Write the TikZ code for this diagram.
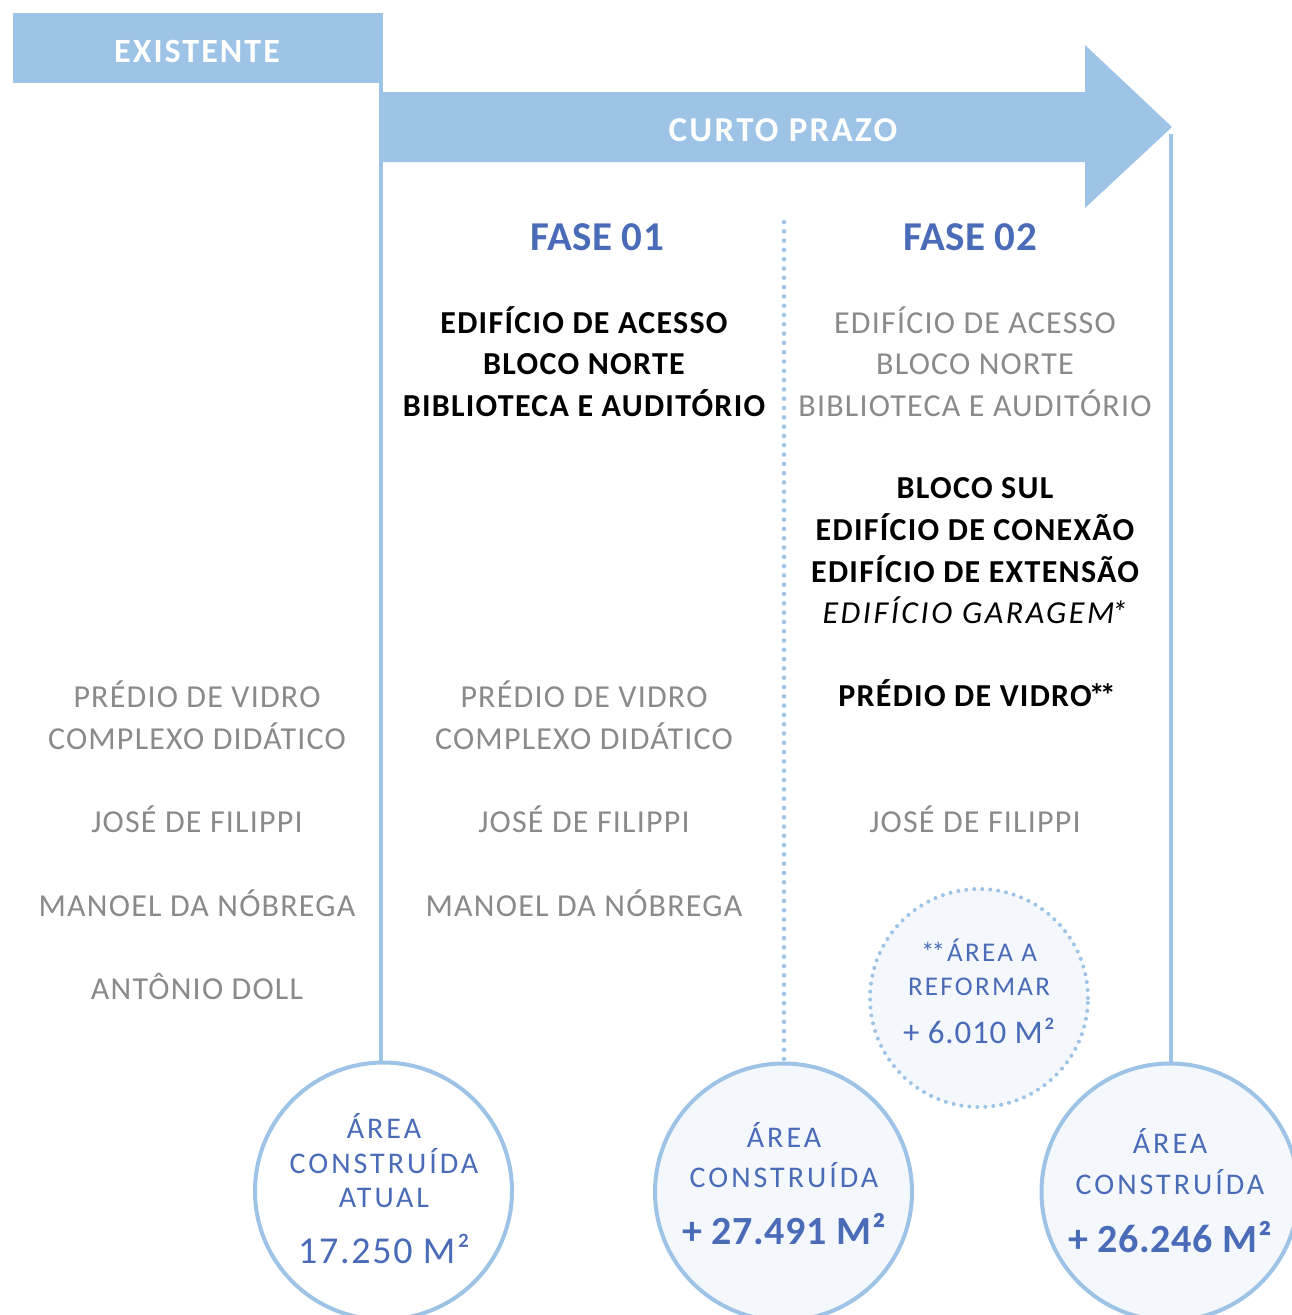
\documentclass[tikz,border=0pt]{standalone}
\usepackage{fontspec}
\setmainfont{Carlito}
\definecolor{lb}{HTML}{9DC3E6}
\definecolor{tb}{HTML}{4A6CB8}
\definecolor{gr}{HTML}{8A8A8A}
\definecolor{cf}{HTML}{F4F8FC}
\begin{document}
\begin{tikzpicture}[x=1pt,y=-1pt,
  lbl/.style={anchor=base, inner sep=0pt, outer sep=0pt},
  graytxt/.style={lbl, text=gr, font=\fontsize{32}{38}\selectfont\addfontfeature{LetterSpace=3.8}},
  boldtxt/.style={lbl, text=black, font=\fontsize{32}{38}\selectfont\bfseries\addfontfeature{LetterSpace=4}},
  itxt/.style={lbl, text=black, font=\fontsize{32}{38}\selectfont\itshape\addfontfeature{LetterSpace=8}},
  headtxt/.style={lbl, text=white, font=\fontsize{34}{40}\selectfont\bfseries\addfontfeature{LetterSpace=6}},
  fasetxt/.style={lbl, text=tb, font=\fontsize{41}{48}\selectfont\bfseries\addfontfeature{LetterSpace=1}},
  ctxt/.style={lbl, text=tb, font=\fontsize{30}{34}\selectfont\addfontfeature{LetterSpace=10}},
  cbig/.style={lbl, text=tb, font=\fontsize{38}{42}\selectfont\addfontfeature{LetterSpace=4.5}},
  cbold/.style={lbl, text=tb, font=\fontsize{40}{44}\selectfont\bfseries\addfontfeature{LetterSpace=1.5}},
  areacircle/.style={circle, draw=lb, line width=4pt, minimum size=257pt, inner sep=0pt},
  vline/.style={draw=lb, line width=4pt},
  dotline/.style={draw=lb, line width=4.5pt, line cap=round, dash pattern=on 0pt off 9.3pt}
]
\useasboundingbox (0,0) rectangle (1291,1315);

% header bars
\node[fill=lb, draw=none, minimum width=370pt, minimum height=70pt, inner sep=0pt, anchor=north west] (exbox) at (13,13) {};
\fill[lb] (383,92) -- (1085,92) -- (1085,45) -- (1172,127) -- (1085,208) -- (1085,162) -- (383,162) -- cycle;
\coordinate (arrowtip) at (1171,134);
\node[headtxt] (ex) at (197,62) {EXISTENTE};
\node[headtxt, font=\fontsize{35}{40}\selectfont\bfseries\addfontfeature{LetterSpace=6.5}] (cp) at (783,141) {CURTO PRAZO};

% circles (positions)
\coordinate (c1pos) at (383.5,1191);
\coordinate (c2pos) at (783.5,1192);
\coordinate (c3pos) at (1170,1192);

% vertical lines
\coordinate (l1top) at (381,83);
\coordinate (l1bot) at (381,1065);
\coordinate (l3bot) at (1171,1065);
\coordinate (dtop) at (784,222);
\coordinate (dbot) at (784,1060);
\draw[vline] (l1top) -- (l1bot);
\draw[vline] (arrowtip) -- (l3bot);
\draw[dotline] (dtop) -- (dbot);

\node[areacircle, fill=white] (c1) at (c1pos) {};
\node[areacircle, fill=cf] (c2) at (c2pos) {};
\node[areacircle, fill=cf] (c3) at (c3pos) {};
\node[circle, draw=lb, fill=cf, line width=4pt, line cap=round, dash pattern=on 0pt off 8pt, minimum size=218pt, inner sep=0pt] (c4) at (979,998) {};

% phase titles
\node[fasetxt] (f1) at (597,250) {FASE 01};
\node[fasetxt] (f2) at (970,250) {FASE 02};

% fase 01 bold
\node[boldtxt] (a1) at (584,333) {EDIFÍCIO DE ACESSO};
\node[boldtxt] (a2) at (584,374) {BLOCO NORTE};
\node[boldtxt] (a3) at (584,416) {BIBLIOTECA E AUDITÓRIO};

% fase 02 gray
\node[graytxt] (b1) at (975,333) {EDIFÍCIO DE ACESSO};
\node[graytxt] (b2) at (975,374) {BLOCO NORTE};
\node[graytxt] (b3) at (975,416) {BIBLIOTECA E AUDITÓRIO};

% fase 02 bold
\node[boldtxt] (b4) at (975,498) {BLOCO SUL};
\node[boldtxt] (b5) at (975,540) {EDIFÍCIO DE CONEXÃO};
\node[boldtxt] (b6) at (975,582) {EDIFÍCIO DE EXTENSÃO};
\node[itxt] (b7) at (975,623) {EDIFÍCIO GARAGEM\kern-3pt*};
\node[boldtxt] (b8) at (977,706) {PRÉDIO DE VIDRO\kern-3pt*\kern-5pt*};

% existing column
\node[graytxt] (e1) at (197,707) {PRÉDIO DE VIDRO};
\node[graytxt] (e2) at (197,749) {COMPLEXO DIDÁTICO};
\node[graytxt] (e3) at (197,832) {JOSÉ DE FILIPPI};
\node[graytxt] (e4) at (197,916) {MANOEL DA NÓBREGA};
\node[graytxt] (e5) at (197,999) {ANTÔNIO DOLL};

% fase 01 gray
\node[graytxt] (m1) at (584,707) {PRÉDIO DE VIDRO};
\node[graytxt] (m2) at (584,749) {COMPLEXO DIDÁTICO};
\node[graytxt] (m3) at (584,832) {JOSÉ DE FILIPPI};
\node[graytxt] (m4) at (584,916) {MANOEL DA NÓBREGA};

% fase 02 gray
\node[graytxt] (r3) at (975,832) {JOSÉ DE FILIPPI};

% circle texts
\node[ctxt] (c1a) at (384,1138) {ÁREA};
\node[ctxt] (c1b) at (384,1173) {CONSTRUÍDA};
\node[ctxt] (c1c) at (384,1207) {ATUAL};
\node[cbig] (c1d) at (384,1263) {17.250 M²};

\node[ctxt] (c2a) at (784,1147) {ÁREA};
\node[ctxt] (c2b) at (784,1187) {CONSTRUÍDA};
\node[cbold] (c2c) at (784,1244) {+ 27.491 M²};

\node[ctxt] (c3a) at (1170,1153) {ÁREA};
\node[ctxt] (c3b) at (1170,1194) {CONSTRUÍDA};
\node[cbold] (c3c) at (1170,1252) {+ 26.246 M²};

\node[ctxt, font=\fontsize{27}{30}\selectfont\addfontfeature{LetterSpace=8.5}] (c4a) at (979,961) {*\kern-3pt*ÁREA A};
\node[ctxt, font=\fontsize{27}{30}\selectfont\addfontfeature{LetterSpace=8.5}] (c4b) at (979,995) {REFORMAR};
\node[cbig, font=\fontsize{33}{36}\selectfont\addfontfeature{LetterSpace=2.5}] (c4c) at (979,1043) {+ 6.010 M²};
\end{tikzpicture}
\end{document}
